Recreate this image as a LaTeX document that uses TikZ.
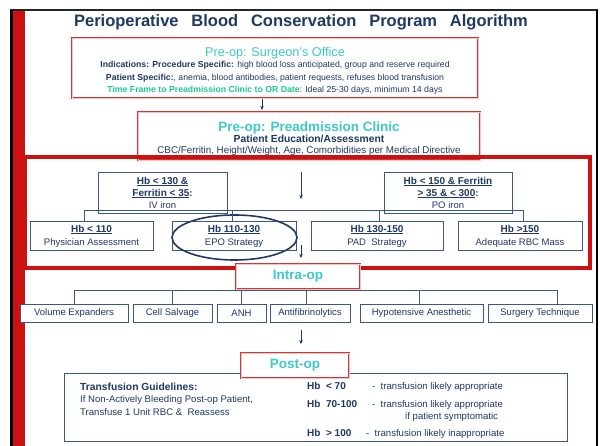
\documentclass[tikz,border=0pt]{standalone}
\usepackage{fontspec}
\setmainfont{Liberation Sans}
\newfontfamily\titlefont[WordSpace=2.8]{Liberation Sans}
\definecolor{perired}{RGB}{204, 17, 17}
\definecolor{perinavy}{RGB}{31, 56, 100}
\definecolor{periline}{RGB}{60, 88, 128}
\definecolor{periteal}{RGB}{62, 200, 200}
\definecolor{perigreen}{RGB}{28, 200, 150}
\usetikzlibrary{shapes.geometric, arrows.meta}
\newcommand{\hbhead}[1]{{\fontsize{10}{12}\selectfont\bfseries\underline{#1}}}
\tikzset{
    redbox/.style={draw=perired!85, double=perired!25, double distance=0.8pt, line width=0.6pt, fill=white, inner sep=0pt, align=center},
    hbbox/.style={draw=periline, line width=0.8pt, fill=white, inner sep=0pt, align=center, text=perinavy, font=\fontsize{9.5}{12}\selectfont},
    tree/.style={draw=periline, line width=0.8pt},
    arr/.style={draw=perinavy, line width=0.6pt, -{Stealth[length=4pt, width=3.5pt]}},
    ring/.style={draw=perinavy, ellipse, line width=1.6pt, inner sep=0pt},
    phase/.style={text=periteal, font=\fontsize{13.5}{15}\selectfont\bfseries},
    note/.style={text=perinavy, font=\fontsize{9.6}{12.5}\selectfont, inner sep=0pt}
}
\begin{document}
\begin{tikzpicture}[x=1pt, y=-1pt]
\useasboundingbox (0,0) rectangle (600,446);
% Slide frame
\fill[white] (0,0) rectangle (600,446);
\draw[black!85, line width=2pt] (10,10) -- (598,10);
\fill[black] (10,10) rectangle (13,446);
\fill[perired] (13,11) rectangle (25,446);
\draw[black, line width=1.5pt] (597,10) -- (597,446);

% Title
\node[text=perinavy, font=\fontsize{16.5}{18}\titlefont\bfseries] (title) at (301,22) {Perioperative Blood Conservation Program Algorithm};

% Pre-op boxes
\node[redbox, minimum width=406pt, minimum height=60pt] (surgeon) at (275,68) {};
\node[text=perinavy, align=center, inner sep=0pt, font=\fontsize{8.7}{12.5}\selectfont] (surgeontext) at ([yshift=-3pt]surgeon.center) {
    {\fontsize{12.7}{14}\selectfont\color{periteal}Pre-op: Surgeon's Office}\\[-1pt]
    \textbf{Indications: Procedure Specific:} high blood loss anticipated, group and reserve required\\
    \textbf{Patient Specific:}, anemia, blood antibodies, patient requests, refuses blood transfusion\\
    {\color{perigreen}\textbf{Time Frame to Preadmission Clinic to OR Date}}{\color{perired}:} Ideal 25-30 days, minimum 14 days
};
\node[redbox, minimum width=342pt, minimum height=48pt] (clinic) at (309,136) {};
\node[text=perinavy, align=center, inner sep=0pt, font=\fontsize{9.8}{10.5}\selectfont] (clinictext) at ([yshift=-2.5pt]clinic.center) {
    {\fontsize{13.5}{15}\selectfont\bfseries\color{periteal}Pre-op: Preadmission Clinic}\\[0.5pt]
    {\fontsize{10.3}{12}\selectfont\bfseries Patient Education/Assessment}\\
    CBC/Ferritin, Height/Weight, Age, Comorbidities per Medical Directive
};
\coordinate (s1) at (262,99);
\coordinate (s2) at (262,110);
\draw[arr] (s1) -- (s2);

% Hb screening
\draw[perired, line width=4pt] (25,157) rectangle (590,268);
\node[hbbox, minimum width=129pt, minimum height=41pt] (hb130) at (162.5,192.5) {
    \hbhead{Hb < 130 \&}\\\hbhead{Ferritin < 35}\textbf{:}\\IV iron};
\node[hbbox, minimum width=128pt, minimum height=41pt] (hb150) at (448,192.5) {
    \hbhead{Hb < 150 \& Ferritin}\\\hbhead{> 35 \& < 300}\textbf{:}\\PO iron};
\node[hbbox, minimum width=123pt, minimum height=29pt, font=\fontsize{9.5}{13}\selectfont] (phys) at (91.5,236) {\hbhead{Hb < 110}\\Physician Assessment};
\node[hbbox, minimum width=124pt, minimum height=29pt, font=\fontsize{9.5}{13}\selectfont] (epo) at (234,236) {\hbhead{Hb 110-130}\\EPO Strategy};
\node[hbbox, minimum width=132pt, minimum height=29pt, font=\fontsize{9.5}{13}\selectfont] (pad) at (377,236) {\hbhead{Hb 130-150}\\PAD~~Strategy};
\node[hbbox, minimum width=124pt, minimum height=29pt, font=\fontsize{9.5}{13}\selectfont] (adeq) at (520,236) {\hbhead{Hb >150}\\Adequate RBC Mass};
\node[ring, minimum width=125pt, minimum height=45pt] (eporing) at (234.5,237.5) {};
\draw[tree] ([xshift=-7.5pt]phys.north) |- ([yshift=3pt]hb130.south) -- ([yshift=3pt]hb150.south) -| ([xshift=3pt]adeq.north);
\draw[tree] ([xshift=-2pt]epo.north) |- ([yshift=3pt]hb130.south);
\draw[tree] ([xshift=2pt]pad.north) |- ([yshift=3pt]hb150.south);
\coordinate (a1) at (301,172);
\coordinate (a2) at (301,199);
\draw[arr] (a1) -- (a2);
\coordinate (a3) at (301,245);
\coordinate (a4) at (301,258);
\draw[arr] (a3) -- (a4);

% Intra-op
\node[redbox, minimum width=124pt, minimum height=25pt, phase] (intra) at (298,276.5) {Intra-op};
\node[hbbox, minimum width=108pt, minimum height=18pt] (vol) at (74,313) {Volume Expanders};
\node[hbbox, minimum width=79pt, minimum height=18pt] (cell) at (172.5,313) {Cell Salvage};
\node[hbbox, minimum width=49pt, minimum height=18pt] (anh) at (241.5,313) {ANH};
\node[hbbox, minimum width=80pt, minimum height=18pt] (anti) at (310,313) {Antifibrinolytics};
\node[hbbox, minimum width=123pt, minimum height=18pt] (hypo) at (421.5,313) {Hypotensive Anesthetic};
\node[hbbox, minimum width=104pt, minimum height=18pt] (surg) at (540,313) {Surgery Technique};
\foreach \b/\dx in {vol/0, cell/0, anh/0, anti/-4, hypo/-2, surg/17}
    \draw[tree] ([xshift=\dx pt]\b.north) |- ([yshift=-1pt]intra.south);
\coordinate (a5) at (301,330);
\coordinate (a6) at (301,344);
\draw[arr] (a5) -- (a6);

% Post-op
\node[hbbox, minimum width=503pt, minimum height=68pt] (guide) at (315.5,407) {};
\node[redbox, minimum width=108pt, minimum height=25pt, phase] (post) at (295,365.5) {Post-op};
\node[note, anchor=north west, align=left] (rule) at (80,382.5) {{\fontsize{10.3}{12}\selectfont\bfseries Transfusion Guidelines:}\\If Non-Actively Bleeding Post-op Patient,\\Transfuse 1 Unit RBC \&~~Reassess};
\node[note, anchor=base west, font=\fontsize{10}{12}\selectfont\bfseries] (lo) at (307,389.5) {Hb~~< 70};
\node[note, anchor=base west, font=\fontsize{10}{12}\selectfont\bfseries] (mid) at (307,407.5) {Hb~~70-100};
\node[note, anchor=base west, font=\fontsize{10}{12}\selectfont\bfseries] (hi) at (307,436.5) {Hb~~> 100};
\node[note, anchor=base west] (lot) at (372,389.5) {-~~transfusion likely appropriate};
\node[note, anchor=base west] (midt) at (372,407.5) {-~~transfusion likely appropriate};
\node[note, anchor=base west] (midu) at (405,420) {if patient symptomatic};
\node[note, anchor=base west] (hit) at (366,436.5) {-~~transfusion likely inappropriate};
\end{tikzpicture}
\end{document}
